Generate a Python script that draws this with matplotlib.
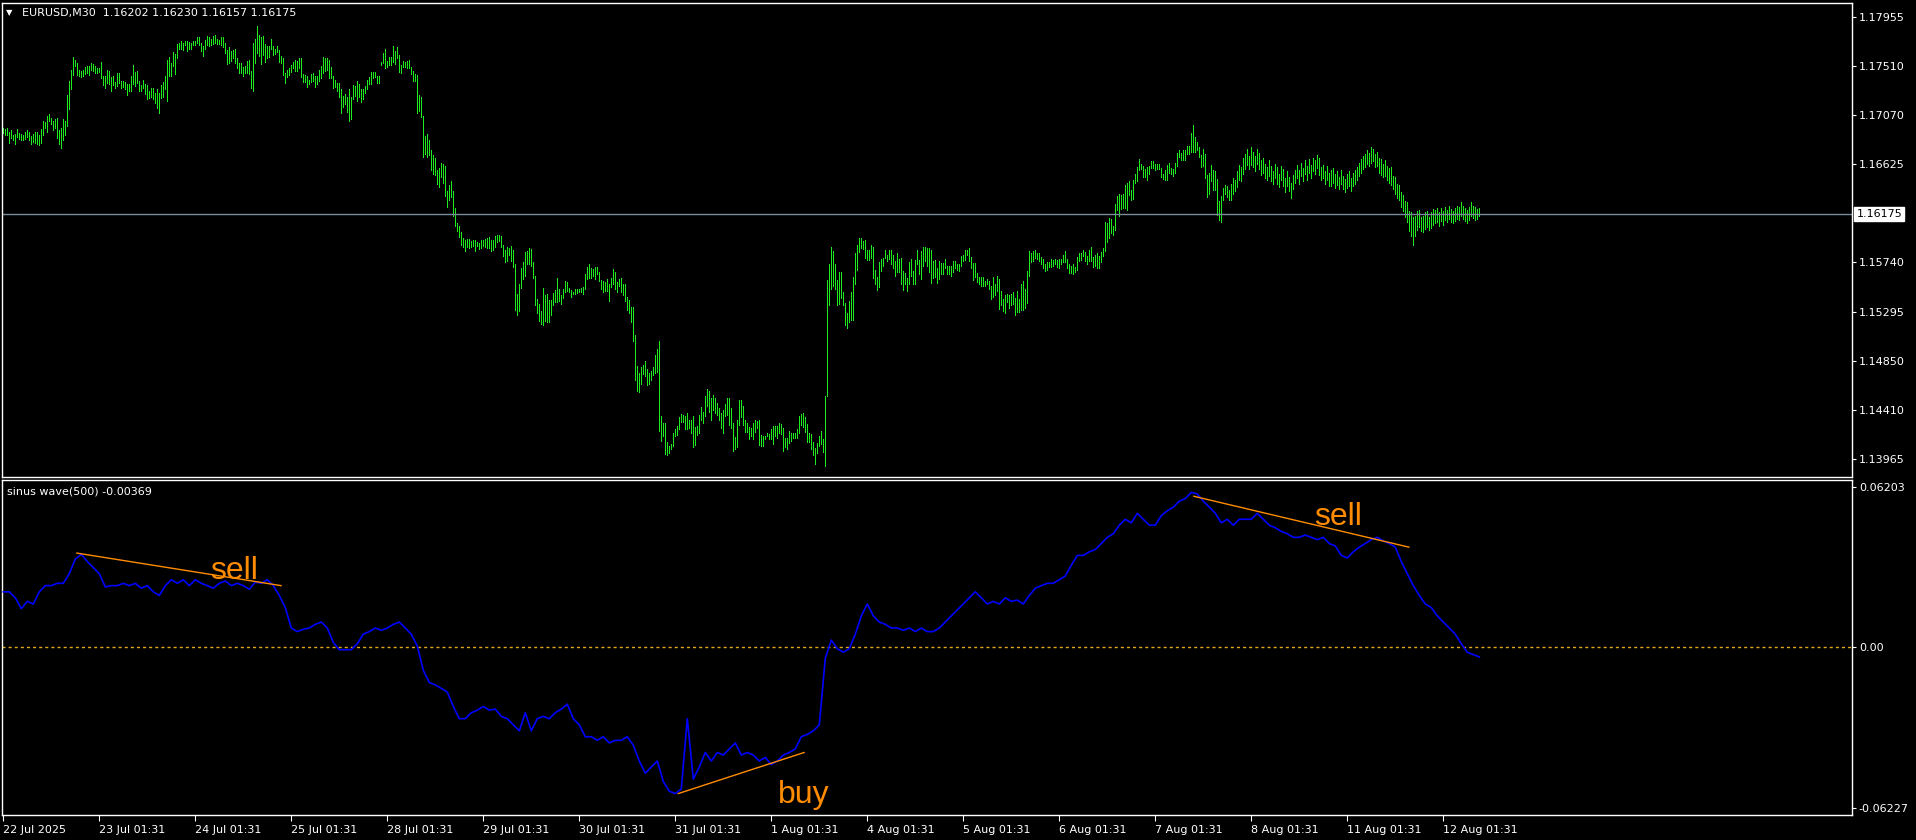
import numpy as np
import matplotlib
matplotlib.use("Agg")
import matplotlib.pyplot as plt

# ---------------- data ----------------
symbol_header = "EURUSD,M30  1.16202 1.16230 1.16157 1.16175"
indicator_header = "sinus wave(500) -0.00369"
last_price = 1.16175

# M30 bar highs / lows (one entry per bar)
high = [
1.1695,1.1694,1.1695,1.1692,1.1693,1.1689,1.1690,1.1694,1.1691,1.1690,
1.1689,1.1692,1.1693,1.1692,1.1688,1.1690,1.1692,1.1692,1.1689,1.1694,
1.1702,1.1701,1.1706,1.1708,1.1704,1.1702,1.1703,1.1704,1.1693,1.1695,
1.1703,1.1702,1.1725,1.1738,1.1748,1.1759,1.1757,1.1754,1.1748,1.1747,
1.1748,1.1750,1.1751,1.1751,1.1754,1.1753,1.1751,1.1749,1.1749,1.1755,
1.1742,1.1742,1.1748,1.1747,1.1741,1.1742,1.1737,1.1745,1.1745,1.1738,
1.1738,1.1737,1.1735,1.1735,1.1742,1.1752,1.1746,1.1747,1.1738,1.1734,
1.1739,1.1735,1.1734,1.1729,1.1731,1.1731,1.1727,1.1730,1.1727,1.1734,
1.1737,1.1742,1.1757,1.1759,1.1754,1.1764,1.1762,1.1771,1.1772,1.1774,
1.1772,1.1774,1.1774,1.1773,1.1772,1.1774,1.1774,1.1777,1.1777,1.1772,
1.1769,1.1775,1.1778,1.1777,1.1776,1.1778,1.1779,1.1776,1.1775,1.1777,
1.1777,1.1772,1.1766,1.1768,1.1765,1.1766,1.1767,1.1758,1.1754,1.1754,
1.1750,1.1751,1.1756,1.1757,1.1747,1.1772,1.1776,1.1787,1.1779,1.1777,
1.1778,1.1771,1.1769,1.1769,1.1776,1.1769,1.1767,1.1769,1.1766,1.1760,
1.1758,1.1745,1.1748,1.1749,1.1752,1.1755,1.1757,1.1756,1.1758,1.1758,
1.1744,1.1743,1.1742,1.1739,1.1744,1.1745,1.1742,1.1742,1.1748,1.1751,
1.1759,1.1758,1.1758,1.1757,1.1750,1.1742,1.1739,1.1736,1.1736,1.1730,
1.1724,1.1726,1.1723,1.1730,1.1723,1.1734,1.1733,1.1738,1.1735,1.1730,
1.1730,1.1733,1.1739,1.1741,1.1746,1.1746,1.1746,1.1742,1.1742,1.1755,
1.1763,1.1767,1.1756,1.1759,1.1759,1.1769,1.1765,1.1768,1.1761,1.1752,
1.1756,1.1755,1.1756,1.1757,1.1750,1.1747,1.1744,1.1743,1.1725,1.1723,
1.1706,1.1688,1.1690,1.1684,1.1675,1.1671,1.1668,1.1657,1.1659,1.1664,
1.1663,1.1661,1.1638,1.1644,1.1647,1.1638,1.1623,1.1609,1.1607,1.1601,
1.1596,1.1594,1.1595,1.1595,1.1593,1.1594,1.1594,1.1592,1.1591,1.1594,
1.1594,1.1595,1.1596,1.1597,1.1594,1.1594,1.1598,1.1599,1.1599,1.1598,
1.1590,1.1585,1.1588,1.1587,1.1589,1.1585,1.1572,1.1545,1.1554,1.1569,
1.1574,1.1583,1.1584,1.1587,1.1586,1.1574,1.1562,1.1541,1.1536,1.1530,
1.1551,1.1544,1.1545,1.1540,1.1540,1.1546,1.1549,1.1560,1.1550,1.1544,
1.1550,1.1557,1.1556,1.1551,1.1549,1.1547,1.1550,1.1550,1.1550,1.1551,
1.1552,1.1563,1.1570,1.1572,1.1569,1.1568,1.1570,1.1570,1.1565,1.1558,
1.1557,1.1556,1.1559,1.1554,1.1560,1.1568,1.1565,1.1556,1.1559,1.1560,
1.1554,1.1554,1.1543,1.1540,1.1534,1.1534,1.1508,1.1480,1.1474,1.1479,
1.1481,1.1485,1.1478,1.1474,1.1476,1.1479,1.1490,1.1496,1.1503,1.1435,
1.1429,1.1429,1.1412,1.1408,1.1410,1.1420,1.1423,1.1426,1.1434,1.1437,
1.1436,1.1435,1.1438,1.1432,1.1432,1.1435,1.1425,1.1426,1.1436,1.1443,
1.1439,1.1453,1.1460,1.1458,1.1451,1.1454,1.1451,1.1447,1.1442,1.1438,
1.1441,1.1446,1.1451,1.1451,1.1442,1.1429,1.1416,1.1432,1.1450,1.1450,
1.1444,1.1432,1.1429,1.1425,1.1424,1.1429,1.1432,1.1431,1.1432,1.1418,
1.1417,1.1417,1.1420,1.1419,1.1423,1.1426,1.1426,1.1426,1.1429,1.1428,
1.1424,1.1415,1.1415,1.1422,1.1420,1.1420,1.1420,1.1423,1.1435,1.1437,
1.1438,1.1434,1.1428,1.1420,1.1419,1.1412,1.1406,1.1411,1.1417,1.1422,
1.1414,1.1453,1.1558,1.1572,1.1588,1.1584,1.1572,1.1558,1.1565,1.1565,
1.1547,1.1537,1.1528,1.1539,1.1547,1.1561,1.1582,1.1590,1.1596,1.1596,
1.1593,1.1594,1.1585,1.1585,1.1590,1.1588,1.1567,1.1561,1.1574,1.1577,
1.1578,1.1585,1.1581,1.1585,1.1585,1.1581,1.1575,1.1582,1.1577,1.1578,
1.1566,1.1564,1.1560,1.1574,1.1577,1.1566,1.1576,1.1585,1.1576,1.1584,
1.1588,1.1588,1.1587,1.1587,1.1585,1.1575,1.1576,1.1569,1.1575,1.1573,
1.1573,1.1577,1.1571,1.1571,1.1571,1.1575,1.1575,1.1572,1.1572,1.1580,
1.1581,1.1585,1.1585,1.1587,1.1579,1.1573,1.1573,1.1564,1.1561,1.1561,
1.1561,1.1557,1.1559,1.1557,1.1553,1.1561,1.1554,1.1562,1.1559,1.1548,
1.1541,1.1544,1.1545,1.1544,1.1545,1.1547,1.1542,1.1548,1.1541,1.1554,
1.1557,1.1550,1.1566,1.1584,1.1582,1.1584,1.1585,1.1582,1.1582,1.1579,
1.1577,1.1572,1.1574,1.1574,1.1577,1.1576,1.1577,1.1576,1.1577,1.1577,
1.1581,1.1584,1.1577,1.1572,1.1571,1.1572,1.1570,1.1579,1.1582,1.1582,
1.1585,1.1583,1.1580,1.1585,1.1588,1.1579,1.1581,1.1582,1.1580,1.1583,
1.1587,1.1610,1.1609,1.1614,1.1613,1.1607,1.1627,1.1634,1.1636,1.1635,
1.1636,1.1644,1.1646,1.1647,1.1639,1.1648,1.1654,1.1660,1.1667,1.1663,
1.1661,1.1658,1.1660,1.1661,1.1665,1.1665,1.1663,1.1663,1.1663,1.1659,
1.1654,1.1657,1.1662,1.1664,1.1659,1.1658,1.1664,1.1673,1.1675,1.1673,
1.1675,1.1675,1.1679,1.1679,1.1691,1.1698,1.1687,1.1683,1.1678,1.1671,
1.1676,1.1672,1.1653,1.1655,1.1662,1.1657,1.1656,1.1649,1.1629,1.1634,
1.1641,1.1644,1.1643,1.1639,
1.1645,1.1650,1.1648,1.1656,1.1662,1.1660,1.1668,1.1672,1.1676,1.1670,
1.1678,1.1674,1.1670,1.1676,1.1673,1.1666,1.1668,1.1663,1.1660,1.1666,
1.1661,1.1656,1.1663,1.1660,1.1654,1.1661,1.1658,1.1650,1.1656,1.1651,
1.1646,1.1653,1.1657,1.1662,1.1657,1.1664,1.1659,1.1666,1.1661,1.1667,
1.1662,1.1668,1.1666,1.1671,1.1668,1.1660,1.1662,1.1656,1.1661,1.1655,
1.1657,1.1659,1.1654,1.1656,1.1651,1.1657,1.1652,1.1649,1.1654,1.1656,
1.1650,1.1655,1.1657,1.1660,1.1664,1.1667,1.1670,1.1672,1.1675,1.1673,
1.1678,1.1676,1.1672,1.1674,1.1668,1.1667,1.1663,1.1666,1.1661,1.1659,
1.1660,1.1652,1.1651,1.1645,1.1644,1.1637,1.1635,1.1629,1.1628,1.1620,
1.1619,1.1615,1.1616,1.1620,1.1621,1.1615,1.1616,1.1619,1.1620,1.1615,
1.1619,1.1622,1.1621,1.1623,1.1619,1.1623,1.1620,1.1624,1.1621,1.1625,
1.1622,1.1620,1.1623,1.1625,1.1624,1.1628,1.1625,1.1623,1.1621,1.1624,
1.1628,1.1625,1.1624,1.1622,1.1623,
]

low = [
1.1691,1.1689,1.1689,1.1682,1.1686,1.1684,1.1681,1.1687,1.1685,1.1684,
1.1684,1.1685,1.1687,1.1684,1.1681,1.1683,1.1682,1.1681,1.1680,1.1682,
1.1689,1.1695,1.1692,1.1702,1.1699,1.1693,1.1695,1.1686,1.1681,1.1677,
1.1684,1.1689,1.1697,1.1712,1.1730,1.1743,1.1751,1.1743,1.1742,1.1741,
1.1742,1.1744,1.1745,1.1743,1.1748,1.1747,1.1745,1.1745,1.1746,1.1740,
1.1734,1.1731,1.1736,1.1735,1.1729,1.1734,1.1731,1.1733,1.1736,1.1731,
1.1732,1.1730,1.1725,1.1729,1.1729,1.1735,1.1733,1.1736,1.1729,1.1729,
1.1731,1.1726,1.1721,1.1722,1.1723,1.1721,1.1718,1.1713,1.1709,1.1722,
1.1723,1.1730,1.1720,1.1742,1.1742,1.1751,1.1744,1.1758,1.1767,1.1767,
1.1766,1.1770,1.1765,1.1767,1.1767,1.1770,1.1770,1.1772,1.1770,1.1765,
1.1760,1.1767,1.1770,1.1769,1.1770,1.1771,1.1772,1.1771,1.1771,1.1770,
1.1768,1.1763,1.1753,1.1754,1.1756,1.1758,1.1754,1.1749,1.1745,1.1745,
1.1742,1.1745,1.1745,1.1744,1.1731,1.1729,1.1754,1.1763,1.1760,1.1753,
1.1761,1.1755,1.1758,1.1759,1.1767,1.1761,1.1762,1.1764,1.1755,1.1754,
1.1743,1.1736,1.1741,1.1743,1.1746,1.1749,1.1747,1.1747,1.1749,1.1741,
1.1737,1.1737,1.1732,1.1735,1.1737,1.1738,1.1732,1.1735,1.1738,1.1740,
1.1745,1.1747,1.1748,1.1740,1.1740,1.1731,1.1732,1.1729,1.1723,1.1709,
1.1714,1.1717,1.1710,1.1702,1.1703,1.1721,1.1724,1.1720,1.1723,1.1719,
1.1721,1.1727,1.1730,1.1735,1.1735,1.1740,1.1741,1.1736,1.1736,1.1752,
1.1754,1.1749,1.1750,1.1752,1.1752,1.1755,1.1753,1.1758,1.1746,1.1745,
1.1750,1.1750,1.1749,1.1749,1.1744,1.1738,1.1738,1.1709,1.1711,1.1705,
1.1669,1.1672,1.1669,1.1671,1.1657,1.1654,1.1653,1.1645,1.1642,1.1651,
1.1646,1.1634,1.1624,1.1630,1.1633,1.1616,1.1607,1.1602,1.1597,1.1590,
1.1588,1.1584,1.1588,1.1587,1.1588,1.1589,1.1584,1.1589,1.1586,1.1587,
1.1589,1.1588,1.1587,1.1587,1.1584,1.1585,1.1588,1.1592,1.1593,1.1588,
1.1580,1.1574,1.1575,1.1581,1.1575,1.1570,1.1531,1.1526,1.1530,1.1551,
1.1559,1.1562,1.1572,1.1572,1.1571,1.1560,1.1535,1.1528,1.1521,1.1518,
1.1517,1.1521,1.1520,1.1520,1.1526,1.1535,1.1538,1.1538,1.1539,1.1536,
1.1542,1.1547,1.1548,1.1547,1.1543,1.1545,1.1545,1.1546,1.1547,1.1547,
1.1545,1.1550,1.1559,1.1560,1.1560,1.1562,1.1559,1.1563,1.1557,1.1550,
1.1547,1.1548,1.1548,1.1539,1.1552,1.1554,1.1550,1.1547,1.1553,1.1547,
1.1544,1.1539,1.1531,1.1528,1.1520,1.1503,1.1468,1.1458,1.1457,1.1464,
1.1473,1.1471,1.1463,1.1464,1.1468,1.1472,1.1474,1.1475,1.1422,1.1413,
1.1417,1.1401,1.1400,1.1402,1.1405,1.1408,1.1417,1.1418,1.1423,1.1430,
1.1430,1.1423,1.1423,1.1424,1.1420,1.1407,1.1409,1.1418,1.1420,1.1432,
1.1429,1.1435,1.1444,1.1439,1.1432,1.1441,1.1438,1.1436,1.1432,1.1424,
1.1420,1.1435,1.1436,1.1427,1.1424,1.1404,1.1405,1.1407,1.1427,1.1434,
1.1427,1.1421,1.1421,1.1414,1.1417,1.1414,1.1421,1.1424,1.1409,1.1408,
1.1408,1.1414,1.1417,1.1414,1.1414,1.1410,1.1417,1.1415,1.1420,1.1419,
1.1404,1.1407,1.1405,1.1411,1.1413,1.1415,1.1415,1.1415,1.1420,1.1427,
1.1425,1.1421,1.1412,1.1412,1.1405,1.1400,1.1392,1.1402,1.1408,1.1410,
1.1403,1.1390,1.1453,1.1535,1.1550,1.1553,1.1550,1.1535,1.1536,1.1542,
1.1535,1.1517,1.1515,1.1520,1.1522,1.1522,1.1554,1.1567,1.1583,1.1587,
1.1586,1.1578,1.1576,1.1576,1.1578,1.1560,1.1554,1.1549,1.1552,1.1566,
1.1571,1.1578,1.1575,1.1577,1.1572,1.1569,1.1562,1.1565,1.1565,1.1554,
1.1549,1.1554,1.1548,1.1554,1.1562,1.1554,1.1554,1.1572,1.1563,1.1559,
1.1571,1.1575,1.1571,1.1565,1.1555,1.1560,1.1561,1.1555,1.1559,1.1563,
1.1563,1.1569,1.1563,1.1563,1.1562,1.1565,1.1569,1.1567,1.1566,1.1571,
1.1575,1.1576,1.1581,1.1575,1.1569,1.1558,1.1561,1.1556,1.1554,1.1553,
1.1553,1.1553,1.1554,1.1550,1.1541,1.1543,1.1544,1.1548,1.1532,1.1535,
1.1530,1.1528,1.1538,1.1533,1.1535,1.1536,1.1526,1.1529,1.1529,1.1531,
1.1531,1.1533,1.1537,1.1562,1.1574,1.1575,1.1578,1.1577,1.1575,1.1572,
1.1569,1.1566,1.1567,1.1570,1.1570,1.1571,1.1572,1.1570,1.1569,1.1572,
1.1574,1.1574,1.1569,1.1564,1.1564,1.1563,1.1565,1.1567,1.1575,1.1576,
1.1580,1.1575,1.1572,1.1575,1.1575,1.1570,1.1571,1.1569,1.1569,1.1574,
1.1580,1.1584,1.1592,1.1596,1.1600,1.1599,1.1603,1.1621,1.1616,1.1622,
1.1623,1.1623,1.1621,1.1635,1.1630,1.1631,1.1646,1.1647,1.1657,1.1658,
1.1651,1.1651,1.1648,1.1654,1.1659,1.1659,1.1657,1.1658,1.1658,1.1651,
1.1649,1.1648,1.1648,1.1655,1.1654,1.1652,1.1655,1.1661,1.1669,1.1666,
1.1666,1.1666,1.1672,1.1672,1.1674,1.1674,1.1674,1.1675,1.1669,1.1660,
1.1661,1.1650,1.1633,1.1636,1.1647,1.1639,1.1639,1.1617,1.1612,1.1610,
1.1630,1.1636,1.1633,1.1630,
1.1630,1.1636,1.1638,1.1642,1.1648,1.1647,1.1654,1.1658,1.1662,1.1658,
1.1662,1.1660,1.1656,1.1663,1.1658,1.1653,1.1655,1.1650,1.1648,1.1652,
1.1647,1.1645,1.1650,1.1645,1.1642,1.1648,1.1643,1.1637,1.1643,1.1638,
1.1632,1.1640,1.1646,1.1650,1.1645,1.1652,1.1647,1.1654,1.1648,1.1655,
1.1650,1.1656,1.1654,1.1659,1.1653,1.1648,1.1650,1.1645,1.1648,1.1643,
1.1643,1.1646,1.1641,1.1644,1.1640,1.1645,1.1640,1.1637,1.1641,1.1643,
1.1638,1.1643,1.1645,1.1648,1.1652,1.1655,1.1658,1.1660,1.1663,1.1661,
1.1664,1.1665,1.1660,1.1661,1.1655,1.1653,1.1651,1.1652,1.1648,1.1646,
1.1644,1.1640,1.1636,1.1632,1.1630,1.1624,1.1620,1.1615,1.1610,1.1602,
1.1598,1.1590,1.1598,1.1603,1.1606,1.1602,1.1601,1.1604,1.1606,1.1603,
1.1605,1.1608,1.1609,1.1610,1.1607,1.1611,1.1608,1.1612,1.1610,1.1613,
1.1610,1.1609,1.1611,1.1613,1.1612,1.1616,1.1613,1.1611,1.1609,1.1612,
1.1616,1.1614,1.1612,1.1613,1.1616,
]

# sinus wave(500) indicator, sampled every `wave_step` bars
wave_step = 3
wave = [
0.0215,0.0215,0.0192,0.0150,0.0178,0.0168,0.0215,
0.0239,0.0239,0.0248,0.0248,0.0285,0.0342,0.0360,0.0332,0.0309,0.0285,
0.0234,0.0239,0.0239,0.0248,0.0239,0.0248,0.0229,0.0239,0.0215,0.0201,
0.0239,0.0262,0.0248,0.0262,0.0239,0.0262,0.0248,0.0239,0.0229,0.0248,
0.0257,0.0239,0.0248,0.0239,0.0225,0.0253,0.0248,0.0262,0.0239,0.0201,
0.0154,0.0075,0.0061,0.0070,0.0075,0.0089,0.0098,0.0075,0.0019,-0.0009,
-0.0009,-0.0009,0.0014,0.0051,0.0061,0.0075,0.0066,0.0075,0.0089,0.0098,
0.0075,0.0051,0.0005,-0.0089,-0.0136,-0.0145,-0.0159,-0.0173,-0.0229,-0.0276,
-0.0276,-0.0253,-0.0243,-0.0229,-0.0243,-0.0239,-0.0267,-0.0276,-0.0300,-0.0323,
-0.0253,-0.0323,-0.0276,-0.0267,-0.0276,-0.0253,-0.0239,-0.0220,-0.0276,-0.0300,
-0.0346,-0.0346,-0.0360,-0.0346,-0.0370,-0.0360,-0.0360,-0.0346,-0.0379,-0.0440,
-0.0487,-0.0463,-0.0440,-0.0519,-0.0557,-0.0566,-0.0548,-0.0276,-0.0510,-0.0463,
-0.0407,-0.0440,-0.0407,-0.0417,-0.0393,-0.0370,-0.0417,-0.0407,-0.0417,-0.0440,
-0.0426,-0.0454,-0.0440,-0.0417,-0.0407,-0.0393,-0.0346,-0.0337,-0.0323,-0.0300,
-0.0042,0.0028,-0.0005,-0.0019,-0.0005,0.0051,0.0122,0.0168,0.0122,0.0098,
0.0089,0.0075,0.0075,0.0066,0.0075,0.0061,0.0075,0.0061,0.0061,0.0075,
0.0098,0.0122,0.0145,0.0168,0.0192,0.0215,0.0192,0.0168,0.0178,0.0168,
0.0192,0.0178,0.0183,0.0168,0.0201,0.0229,0.0239,0.0248,0.0248,0.0262,
0.0276,0.0318,0.0356,0.0356,0.0370,0.0379,0.0402,0.0426,0.0440,0.0473,
0.0496,0.0482,0.0519,0.0496,0.0473,0.0473,0.0510,0.0529,0.0543,0.0566,
0.0576,0.0600,0.0594,0.0566,0.0543,0.0519,0.0482,0.0496,0.0473,0.0496,
0.0496,0.0496,0.0519,0.0496,0.0473,0.0463,0.0449,0.0440,0.0426,0.0426,
0.0435,0.0426,0.0417,0.0426,0.0402,0.0393,0.0356,0.0346,0.0370,0.0388,
0.0402,0.0417,0.0426,0.0412,0.0402,0.0388,0.0332,0.0285,0.0239,0.0201,
0.0168,0.0154,0.0122,0.0098,0.0075,0.0051,0.0014,-0.0019,-0.0028,-0.0037,
]

price_ticks = [1.17955, 1.17510, 1.17070, 1.16625, 1.15740, 1.15295, 1.14850, 1.14410, 1.13965]
wave_ticks = [0.06203, 0.0, -0.06227]
wave_tick_labels = ["0.06203", "0.00", "-0.06227"]
time_ticks = [0, 48, 96, 144, 192, 240, 288, 336, 384, 432, 480, 528, 576, 624, 672, 720]
time_labels = ["22 Jul 2025", "23 Jul 01:31", "24 Jul 01:31", "25 Jul 01:31", "28 Jul 01:31",
               "29 Jul 01:31", "30 Jul 01:31", "31 Jul 01:31", "1 Aug 01:31", "4 Aug 01:31",
               "5 Aug 01:31", "6 Aug 01:31", "7 Aug 01:31", "8 Aug 01:31", "11 Aug 01:31",
               "12 Aug 01:31"]

# divergence trend lines (bar index, indicator value) and their labels
signal_x = [[36.8, 138.9], [337.5, 400.4], [595.3, 702.8]]
signal_y = [[0.0365, 0.0239], [-0.0566, -0.0407], [0.0585, 0.0388]]
signal_text = ["sell", "buy", "sell"]
signal_text_x = [115.6, 400.0, 667.4]
signal_text_y = [0.0264, -0.0603, 0.0472]

# ---------------- drawing ----------------
W, H = 1916, 840
fig = plt.figure(figsize=(W / 100, H / 100), dpi=100, facecolor="black")


def box(x0, y0, x1, y1):
    return [x0 / W, 1 - y1 / H, (x1 - x0) / W, (y1 - y0) / H]


ax1 = fig.add_axes(box(2, 3, 1852, 477))
ax2 = fig.add_axes(box(2, 480, 1852, 815))

n = min(len(high), len(low))
bars = np.arange(n)
xlim = (-0.65, 924.35)

FG = "white"
FONT = "DejaVu Sans"

for ax in (ax1, ax2):
    ax.set_facecolor("black")
    for s in ax.spines.values():
        s.set_color(FG)
        s.set_linewidth(1.0)
    ax.set_xlim(*xlim)
    ax.yaxis.tick_right()
    ax.tick_params(axis="y", colors=FG, labelcolor=FG, length=3, width=0.8,
                   direction="out", pad=2, labelsize=8)

# price bars
ax1.vlines(bars, np.array(low[:n]), np.array(high[:n]), colors="#1EEB1E",
           linewidth=0.5, antialiased=False)
ax1.set_ylim(1.13801, 1.18081)
ax1.axhline(last_price, color="#7B8A9A", lw=1.0)
ax1.set_yticks(price_ticks)
ax1.set_yticklabels([f"{v:.5f}" for v in price_ticks], fontfamily=FONT)
ax1.set_xticks([])
ax1.annotate(f"{last_price:.5f}", xy=(1.0, last_price), xycoords=("axes fraction", "data"),
             xytext=(3.2, 0), textcoords="offset points", ha="left", va="center",
             fontsize=8, fontfamily=FONT, color="black",
             bbox=dict(boxstyle="square,pad=0.18", fc="white", ec="white"),
             annotation_clip=False)

# indicator
wx = np.arange(len(wave)) * wave_step
ax2.axhline(0.0, color="#E0A81C", lw=1.0, linestyle=(0, (2.2, 2.2)))
ax2.plot(wx, wave, color="#0000FF", lw=1.2, zorder=3)
ax2.set_ylim(-0.0649, 0.0648)
ax2.set_yticks(wave_ticks)
ax2.set_yticklabels(wave_tick_labels, fontfamily=FONT)

for xs, ys in zip(signal_x, signal_y):
    ax2.plot(xs, ys, color="#FF8C00", lw=1.0, zorder=4)
for t, tx, ty in zip(signal_text, signal_text_x, signal_text_y):
    ax2.text(tx, ty, t, color="#FF8C00", fontsize=23, fontfamily="Liberation Sans",
             ha="center", va="baseline", zorder=5)

ax2.set_xticks(time_ticks)
ax2.set_xticklabels(time_labels, fontfamily=FONT, ha="left")
ax2.tick_params(axis="x", colors=FG, labelcolor=FG, length=4, width=0.8,
                direction="out", pad=3, labelsize=8)

# headers
fig.text(6 / W, 1 - 13 / H, "\u25BC", color=FG, fontsize=6, fontfamily=FONT,
         ha="left", va="center")
fig.text(22 / W, 1 - 13 / H, symbol_header, color=FG, fontsize=8, fontfamily=FONT,
         ha="left", va="center")
fig.text(7 / W, 1 - 491 / H, indicator_header, color=FG, fontsize=8, fontfamily=FONT,
         ha="left", va="center")

fig.savefig("out.png", dpi=100, facecolor="black")
